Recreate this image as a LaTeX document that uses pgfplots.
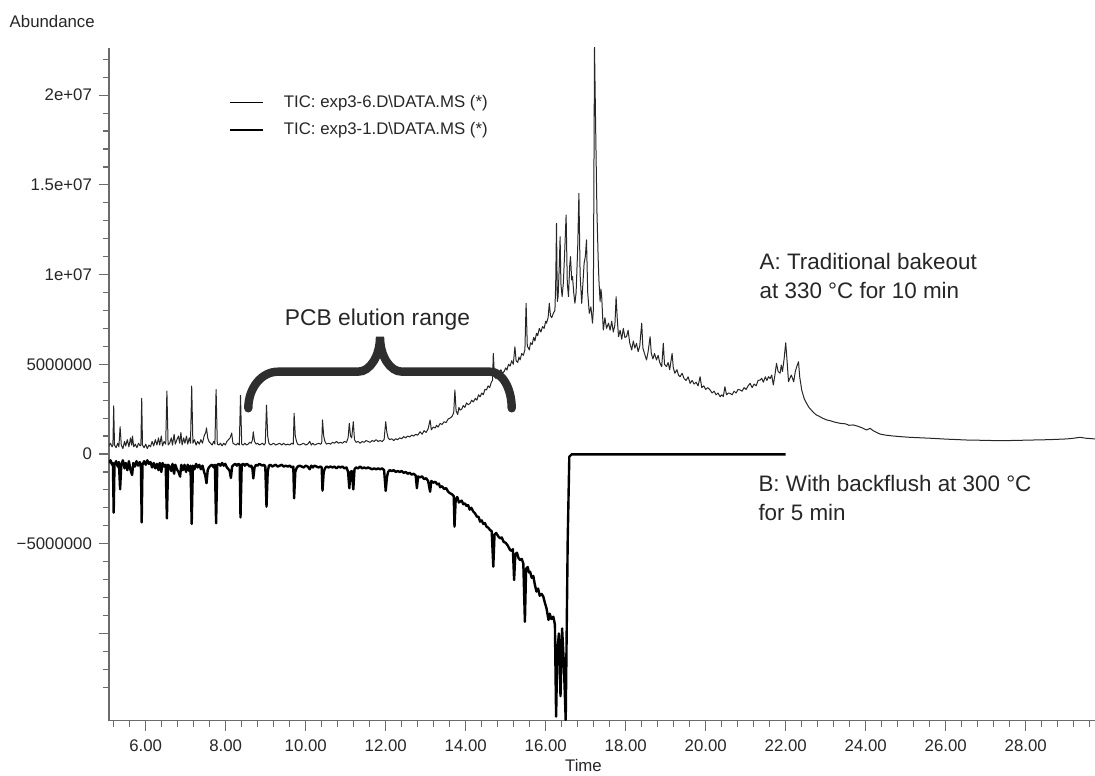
\documentclass[border=0pt]{standalone}
\usepackage{fontspec}
\setmainfont{Liberation Sans}
\usepackage{pgfplots}
\pgfplotsset{compat=1.18}
\definecolor{axisgray}{gray}{0.42}
\definecolor{txt}{gray}{0.15}

% trace A: traditional bakeout (t in min, abundance in millions)
\pgfplotstableread{
t v
5.08 0.45
5.12 0.6
5.16 0.4
5.18 0.5
5.20 2.68
5.22 0.5
5.26 0.35
5.30 0.6
5.33 0.4
5.36 1.52
5.39 0.5
5.43 0.3
5.47 0.7
5.50 0.45
5.54 0.8
5.58 0.4
5.62 0.9
5.65 0.5
5.67 1.0
5.70 0.4
5.74 0.55
5.78 0.35
5.82 0.6
5.86 0.45
5.88 0.5
5.90 3.1
5.92 0.5
5.96 0.35
6.00 0.55
6.04 0.3
6.08 0.5
6.12 0.4
6.16 0.7
6.20 0.45
6.24 0.8
6.28 0.5
6.32 0.9
6.35 0.5
6.39 1.0
6.42 0.45
6.46 0.7
6.50 0.55
6.53 3.51
6.56 0.5
6.60 0.6
6.64 0.9
6.67 0.5
6.71 1.1
6.74 0.55
6.78 0.8
6.82 1.0
6.85 0.6
6.88 1.2
6.91 0.5
6.95 0.9
6.98 0.6
7.02 1.0
7.05 0.55
7.09 0.9
7.12 0.6
7.15 3.79
7.18 0.6
7.22 0.8
7.26 0.5
7.30 0.7
7.34 0.55
7.38 0.8
7.42 0.6
7.46 1.0
7.50 1.2
7.52 1.45
7.55 0.9
7.58 0.7
7.62 0.6
7.66 0.5
7.70 0.7
7.73 0.55
7.76 3.6
7.79 0.55
7.83 0.5
7.87 0.6
7.91 0.45
7.95 0.6
7.99 0.5
8.03 0.7
8.07 0.8
8.11 0.9
8.15 1.17
8.18 0.6
8.22 0.55
8.26 0.5
8.30 0.6
8.34 0.5
8.37 3.27
8.40 0.55
8.44 0.5
8.48 0.6
8.52 0.5
8.56 0.55
8.60 0.65
8.64 0.6
8.67 0.8
8.69 1.24
8.72 0.7
8.76 0.55
8.80 0.6
8.84 0.5
8.88 0.55
8.92 0.6
8.96 0.5
8.99 0.6
9.02 2.73
9.05 1.0
9.08 0.6
9.12 0.5
9.16 0.55
9.20 0.6
9.25 0.5
9.30 0.55
9.35 0.6
9.40 0.5
9.45 0.6
9.50 0.5
9.55 0.55
9.60 0.5
9.65 0.6
9.69 0.55
9.71 2.27
9.74 1.0
9.77 0.7
9.80 0.55
9.85 0.5
9.90 0.55
9.95 0.6
10.00 0.5
10.05 0.55
10.10 0.7
10.14 0.5
10.18 0.6
10.22 0.5
10.27 0.55
10.32 0.6
10.37 0.55
10.40 0.6
10.42 1.9
10.45 1.0
10.48 0.7
10.52 0.55
10.57 0.6
10.62 0.55
10.67 0.65
10.72 0.6
10.77 0.7
10.82 0.6
10.87 0.65
10.92 0.6
10.97 0.7
11.02 0.65
11.06 0.9
11.09 1.71
11.12 1.0
11.15 0.9
11.19 1.80
11.22 0.8
11.26 0.65
11.31 0.7
11.36 0.6
11.41 0.7
11.46 0.65
11.51 0.75
11.56 0.7
11.61 0.65
11.66 0.75
11.71 0.7
11.76 0.8
11.81 0.7
11.86 0.75
11.91 0.7
11.96 0.8
12.00 1.8
12.03 1.2
12.06 0.9
12.10 0.8
12.15 0.85
12.20 0.75
12.25 0.85
12.30 0.8
12.35 0.9
12.40 0.85
12.45 0.97
12.50 0.9
12.55 1.0
12.60 0.95
12.65 1.05
12.70 1.0
12.75 1.1
12.80 1.05
12.86 1.24
12.91 1.1
12.96 1.3
13.01 1.2
13.06 1.4
13.11 1.9
13.14 1.35
13.19 1.5
13.24 1.45
13.27 1.6
13.31 1.5
13.36 1.7
13.41 1.65
13.46 1.8
13.51 1.75
13.56 1.95
13.61 2.0
13.66 2.1
13.70 2.3
13.73 3.57
13.76 2.4
13.80 2.2
13.83 2.6
13.86 2.45
13.90 2.5
13.94 2.7
13.98 2.6
14.02 2.85
14.06 2.75
14.11 2.82
14.15 3.0
14.19 2.9
14.24 3.1
14.28 3.0
14.32 3.3
14.36 3.19
14.40 3.4
14.44 3.3
14.48 3.6
14.52 3.57
14.56 3.8
14.60 3.7
14.64 4.0
14.67 4.1
14.69 5.61
14.72 4.3
14.76 4.2
14.80 4.5
14.84 4.4
14.88 4.7
14.92 4.5
14.96 4.6
15.00 4.8
15.03 4.68
15.07 5.0
15.11 4.9
15.15 5.2
15.19 5.0
15.23 5.98
15.26 5.2
15.30 5.1
15.33 5.4
15.36 5.24
15.40 5.6
15.44 5.5
15.48 5.8
15.51 8.4
15.54 6.0
15.57 5.9
15.59 5.8
15.62 6.2
15.66 6.1
15.70 6.5
15.73 6.3
15.77 6.73
15.80 6.6
15.84 7.0
15.88 6.8
15.92 7.1
15.96 7.0
16.00 7.4
16.02 7.29
16.06 7.6
16.09 8.4
16.12 7.7
16.15 7.6
16.19 7.84
16.23 8.0
16.25 9.5
16.27 12.86
16.29 8.5
16.31 8.77
16.34 10.5
16.36 12.11
16.38 9.5
16.41 8.77
16.44 9.5
16.47 11.0
16.51 13.32
16.54 9.5
16.57 8.77
16.60 10.5
16.62 11.0
16.65 9.7
16.67 9.9
16.70 9.0
16.73 8.4
16.76 9.0
16.80 11.5
16.83 14.53
16.86 10.0
16.90 8.4
16.93 9.5
16.96 10.63
16.99 11.0
17.02 11.93
17.05 9.0
17.09 7.84
17.13 8.2
17.17 7.29
17.19 8.0
17.22 22.7
17.25 18.0
17.28 13.6
17.31 11.0
17.33 9.7
17.36 8.5
17.38 9.2
17.40 8.77
17.42 7.8
17.44 6.91
17.48 7.6
17.52 7.0
17.57 7.29
17.61 6.9
17.65 7.4
17.69 6.8
17.73 7.2
17.76 8.77
17.79 7.5
17.82 6.54
17.86 6.9
17.90 6.4
17.94 7.0
17.98 6.5
18.02 6.54
18.06 6.9
18.10 6.2
18.15 5.8
18.19 6.3
18.23 5.9
18.27 6.17
18.31 5.7
18.35 6.0
18.40 7.29
18.43 5.9
18.47 5.6
18.52 5.24
18.56 5.7
18.61 6.54
18.64 5.6
18.68 5.3
18.72 5.6
18.77 5.24
18.81 5.5
18.85 5.1
18.90 4.87
18.94 6.17
18.97 5.0
19.02 4.87
19.06 5.1
19.10 4.7
19.16 5.61
19.19 4.8
19.23 4.5
19.28 4.7
19.32 4.4
19.36 4.31
19.41 4.5
19.46 4.2
19.51 4.1
19.56 4.3
19.61 3.94
19.66 4.1
19.71 3.9
19.76 4.0
19.81 3.8
19.86 4.31
19.90 3.7
19.95 3.8
20.00 3.6
20.05 3.7
20.11 3.57
20.16 3.4
20.21 3.5
20.26 3.3
20.31 3.4
20.36 3.19
20.40 3.3
20.44 3.2
20.48 3.75
20.52 3.3
20.57 3.4
20.61 3.38
20.66 3.3
20.71 3.5
20.76 3.4
20.81 3.6
20.86 3.57
20.91 3.5
20.96 3.7
21.01 3.6
21.06 3.8
21.11 3.94
21.16 3.7
21.21 3.9
21.26 3.8
21.31 4.1
21.36 4.12
21.40 4.22
21.44 4.0
21.49 4.3
21.53 4.1
21.57 4.31
21.61 4.2
21.65 4.4
21.69 3.85
21.73 4.4
21.77 5.05
21.81 4.6
21.86 4.5
21.89 4.96
21.92 4.6
21.96 5.3
22.00 6.2
22.04 5.0
22.07 4.03
22.10 4.2
22.14 4.4
22.20 4.03
22.24 4.6
22.28 4.9
22.32 5.14
22.35 4.3
22.40 3.57
22.46 3.1
22.52 2.83
22.58 2.6
22.64 2.45
22.70 2.3
22.77 2.17
22.84 2.1
22.92 2.0
23.02 1.9
23.12 1.85
23.22 1.78
23.36 1.71
23.50 1.68
23.58 1.6
23.69 1.62
23.80 1.55
23.92 1.45
24.02 1.34
24.11 1.43
24.20 1.28
24.36 1.11
24.50 1.05
24.70 1.0
24.86 0.97
25.10 0.93
25.40 0.9
25.69 0.87
26.00 0.83
26.52 0.78
27.00 0.76
27.36 0.74
27.80 0.76
28.19 0.78
28.60 0.8
29.02 0.84
29.20 0.88
29.36 0.93
29.50 0.88
29.73 0.84
}\traceA

% trace B: with backflush
\pgfplotstableread{
t v
5.08 -0.5
5.12 -0.35
5.16 -0.6
5.18 -0.5
5.20 -3.27
5.22 -0.6
5.26 -0.4
5.30 -0.7
5.33 -0.45
5.36 -1.97
5.39 -0.6
5.43 -0.35
5.47 -0.8
5.50 -0.5
5.54 -0.9
5.58 -0.4
5.62 -0.9
5.66 -1.17
5.69 -0.5
5.73 -0.7
5.77 -0.4
5.81 -0.65
5.85 -0.45
5.88 -0.6
5.90 -3.81
5.92 -0.6
5.96 -0.4
6.00 -0.6
6.04 -0.35
6.08 -0.55
6.12 -0.45
6.16 -0.75
6.20 -0.5
6.24 -0.8
6.28 -0.55
6.32 -0.9
6.35 -0.5
6.39 -1.0
6.42 -0.5
6.46 -0.7
6.50 -0.6
6.53 -3.59
6.56 -0.6
6.60 -0.7
6.64 -0.95
6.67 -0.55
6.71 -1.1
6.74 -0.6
6.78 -0.85
6.82 -1.0
6.86 -1.26
6.89 -0.6
6.93 -0.9
6.97 -0.6
7.01 -1.0
7.05 -0.6
7.09 -0.95
7.12 -0.65
7.15 -3.9
7.18 -0.65
7.22 -0.85
7.26 -0.55
7.30 -0.75
7.34 -0.6
7.38 -0.85
7.42 -0.65
7.46 -1.0
7.49 -1.2
7.52 -1.63
7.55 -0.9
7.58 -0.75
7.62 -0.65
7.66 -0.6
7.70 -0.75
7.73 -0.6
7.76 -3.86
7.79 -0.6
7.83 -0.55
7.87 -0.65
7.91 -0.5
7.95 -0.65
7.99 -0.55
8.03 -0.75
8.07 -0.85
8.10 -0.95
8.13 -1.34
8.16 -0.7
8.20 -0.6
8.24 -0.55
8.28 -0.65
8.32 -0.55
8.35 -0.6
8.37 -3.53
8.40 -0.6
8.44 -0.55
8.48 -0.65
8.52 -0.55
8.56 -0.6
8.60 -0.7
8.64 -0.65
8.67 -0.85
8.69 -1.36
8.72 -0.75
8.76 -0.6
8.80 -0.65
8.84 -0.55
8.88 -0.6
8.92 -0.65
8.96 -0.6
8.99 -0.7
9.02 -2.94
9.05 -1.0
9.08 -0.65
9.12 -0.6
9.16 -0.7
9.20 -0.65
9.25 -0.6
9.30 -0.7
9.35 -0.65
9.40 -0.6
9.45 -0.7
9.50 -0.65
9.55 -0.7
9.60 -0.65
9.65 -0.75
9.69 -0.7
9.71 -2.47
9.74 -1.0
9.77 -0.8
9.80 -0.7
9.85 -0.65
9.90 -0.7
9.95 -0.75
10.00 -0.65
10.05 -0.7
10.10 -0.85
10.14 -0.65
10.18 -0.75
10.22 -0.65
10.27 -0.7
10.32 -0.75
10.37 -0.7
10.40 -0.75
10.42 -2.04
10.45 -1.0
10.48 -0.8
10.52 -0.7
10.57 -0.75
10.62 -0.7
10.67 -0.75
10.72 -0.7
10.77 -0.8
10.82 -0.7
10.87 -0.75
10.92 -0.7
10.97 -0.8
11.02 -0.75
11.06 -1.0
11.09 -1.91
11.12 -1.0
11.15 -0.95
11.19 -1.97
11.22 -0.85
11.26 -0.75
11.31 -0.8
11.36 -0.7
11.41 -0.8
11.46 -0.75
11.51 -0.8
11.56 -0.75
11.61 -0.8
11.66 -0.85
11.71 -0.8
11.76 -0.85
11.81 -0.8
11.86 -0.85
11.91 -0.8
11.96 -0.9
12.00 -2.06
12.03 -1.3
12.06 -1.0
12.10 -0.9
12.15 -0.95
12.20 -0.9
12.25 -1.0
12.30 -0.95
12.35 -1.0
12.40 -0.95
12.45 -1.05
12.50 -1.0
12.55 -1.1
12.60 -1.05
12.65 -1.15
12.70 -1.1
12.75 -1.2
12.78 -1.91
12.81 -1.25
12.86 -1.3
12.91 -1.25
12.96 -1.4
13.01 -1.35
13.06 -1.5
13.11 -2.1
13.14 -1.5
13.19 -1.6
13.24 -1.55
13.29 -1.7
13.33 -1.65
13.36 -1.85
13.41 -1.8
13.46 -1.95
13.51 -1.9
13.56 -2.1
13.61 -2.19
13.66 -2.25
13.70 -2.35
13.72 -4.05
13.75 -2.5
13.79 -2.4
13.83 -2.7
13.86 -2.66
13.90 -2.6
13.94 -2.8
13.98 -2.75
14.02 -2.9
14.06 -2.85
14.10 -3.1
14.14 -3.0
14.19 -3.21
14.23 -3.3
14.28 -3.49
14.32 -3.5
14.36 -3.77
14.40 -3.7
14.44 -3.9
14.48 -3.85
14.52 -4.05
14.56 -4.1
14.61 -4.24
14.65 -4.3
14.69 -6.28
14.72 -4.5
14.76 -4.4
14.82 -4.61
14.86 -4.7
14.90 -4.65
14.95 -4.9
15.00 -4.95
15.05 -5.1
15.11 -5.35
15.15 -5.4
15.18 -5.3
15.21 -7.02
15.24 -5.6
15.28 -5.5
15.32 -5.8
15.36 -5.91
15.40 -5.85
15.44 -6.1
15.48 -9.35
15.51 -6.4
15.55 -6.3
15.58 -6.6
15.61 -6.56
15.65 -6.9
15.69 -6.8
15.73 -7.3
15.77 -7.67
15.81 -7.5
15.85 -7.9
15.90 -7.8
15.94 -7.95
15.98 -8.3
16.02 -8.6
16.07 -9.25
16.10 -8.9
16.14 -9.2
16.19 -9.07
16.23 -9.5
16.26 -14.64
16.29 -11.0
16.33 -10.0
16.37 -13.5
16.41 -9.72
16.45 -11.5
16.50 -14.83
16.55 -4.8
16.59 -0.15
16.65 -0.02
22.00 -0.02
}\traceB

\begin{document}
\begin{tikzpicture}
\begin{axis}[
  scale only axis, width=493pt, height=336.5pt,
  xmin=5.0825, xmax=29.7325, ymin=-14.866, ymax=22.648,
  axis x line=bottom, axis y line=left,
  axis line style={-, axisgray, line width=0.7pt},
  tick align=outside,
  major tick length=5pt, minor tick length=3pt,
  tick style={axisgray, line width=0.6pt},
  xtick={6,8,...,28},
  xticklabels={6.00,8.00,10.00,12.00,14.00,16.00,18.00,20.00,22.00,24.00,26.00,28.00},
  minor xtick={5.2,5.6,...,29.7},
  ytick={-10,-5,0,5,10,15,20},
  yticklabels={,−5000000,0,5000000,1e+07,1.5e+07,2e+07},
  minor ytick={-13,-12,...,22},
  ticklabel style={font=\fontsize{8.4}{10}\selectfont, text=txt},
  xticklabel shift=0.8pt,
  xlabel={Time}, ylabel={Abundance},
  every axis y label/.style={at={(axis description cs:-0.1011,1.0297)}, anchor=base west, inner sep=0pt, font=\fontsize{8.4}{10}\selectfont, text=txt},
  every axis x label/.style={at={(axis description cs:0.4812,-0.0755)}, anchor=base, inner sep=0pt, font=\fontsize{8.4}{10}\selectfont, text=txt},
  legend style={at={(axis description cs:0.121,0.936)}, anchor=north west, draw=none, fill=none,
    inner sep=0pt, font=\fontsize{8.4}{10}\selectfont, text=txt, column sep=8pt, row sep=2pt},
  legend cell align=left,
  legend image code/.code={\draw[#1] (0pt,0pt) -- (16.5pt,0pt);},
]
\addlegendimage{line width=0.5pt, black}
\addlegendentry{TIC: exp3-6.D\textbackslash DATA.MS (*)}
\addlegendimage{line width=1.1pt, black}
\addlegendentry{TIC: exp3-1.D\textbackslash DATA.MS (*)}

\addplot[forget plot, line width=0.5pt, black!85, line join=round] table[x=t, y=v] {\traceA};
\addplot[forget plot, line width=1.2pt, black, line join=round] table[x=t, y=v] {\traceB};

% brace over the PCB elution range
\draw[line width=4.2pt, black!82, line cap=round]
  (axis cs:8.565,2.547) .. controls (axis cs:8.565,3.673) and (axis cs:8.8925,4.588) .. (axis cs:9.3075,4.588)
  -- (axis cs:11.3075,4.588) .. controls (axis cs:11.61,4.588) and (axis cs:11.8575,5.463) .. (axis cs:11.8575,6.538)
  .. controls (axis cs:11.8575,5.463) and (axis cs:12.105,4.588) .. (axis cs:12.4075,4.588)
  -- (axis cs:14.6075,4.588) .. controls (axis cs:14.9075,4.588) and (axis cs:15.15,3.673) .. (axis cs:15.15,2.547);

\node[anchor=base, inner sep=0pt, font=\fontsize{11.4}{14.2}\selectfont, text=txt] at (axis cs:11.795,7.19) {PCB elution range};
\node[anchor=base west, inner sep=0pt, align=left, font=\fontsize{11.2}{14.2}\selectfont, text=txt] at (axis cs:21.34,8.68) {A: Traditional bakeout\\at 330 °C for 10 min};
\node[anchor=base west, inner sep=0pt, align=left, font=\fontsize{11.2}{14.2}\selectfont, text=txt] at (axis cs:21.31,-3.68) {B: With backflush at 300 °C\\for 5 min};

\coordinate (O) at (rel axis cs:0,0);
\coordinate (TR) at (rel axis cs:1,1);
\end{axis}
\pgfresetboundingbox
\path[use as bounding box] ([xshift=-54.5pt,yshift=-27.15pt]O) rectangle ([yshift=23.85pt]TR);
\end{tikzpicture}
\end{document}
